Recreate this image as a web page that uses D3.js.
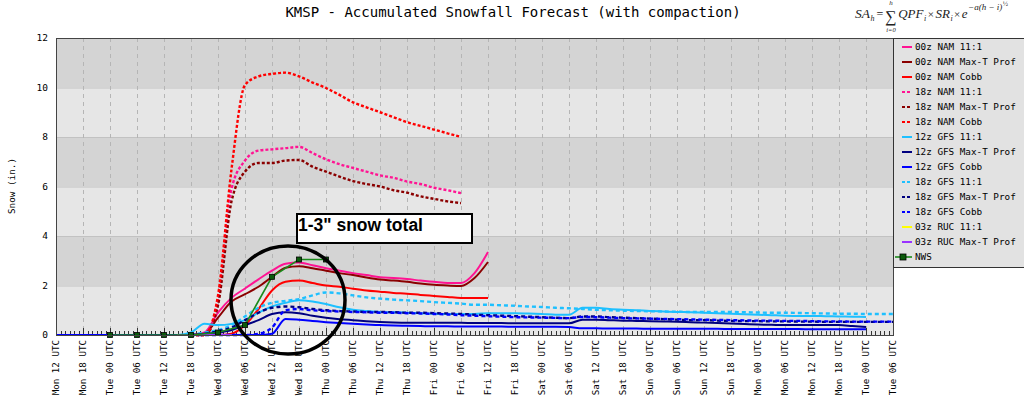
<!DOCTYPE html>
<html>
<head>
<meta charset="utf-8">
<script src="https://cdn.jsdelivr.net/npm/d3@7/dist/d3.min.js"></script>
<style>
  body { margin: 0; background: #fff; }
  svg { display: block; }
  .mono { font-family: "DejaVu Sans Mono", monospace; }
</style>
</head>
<body>
<script>
// hours are counted from Mon 12 UTC, values are inches of snow, one value every 3 hours
var tickLabels = ["Mon 12 UTC", "Mon 18 UTC", "Tue 00 UTC", "Tue 06 UTC", "Tue 12 UTC", "Tue 18 UTC",
  "Wed 00 UTC", "Wed 06 UTC", "Wed 12 UTC", "Wed 18 UTC", "Thu 00 UTC", "Thu 06 UTC", "Thu 12 UTC",
  "Thu 18 UTC", "Fri 00 UTC", "Fri 06 UTC", "Fri 12 UTC", "Fri 18 UTC", "Sat 00 UTC", "Sat 06 UTC",
  "Sat 12 UTC", "Sat 18 UTC", "Sun 00 UTC", "Sun 06 UTC", "Sun 12 UTC", "Sun 18 UTC", "Mon 00 UTC",
  "Mon 06 UTC", "Mon 12 UTC", "Mon 18 UTC", "Tue 00 UTC", "Tue 06 UTC"];
var yTicks = [0, 2, 4, 6, 8, 10, 12];

var nam00_11   = [0, 0.1, 0.9, 1.5, 1.88, 2.25, 2.6, 2.88, 2.93, 2.82, 2.7, 2.6, 2.5, 2.42, 2.33, 2.3, 2.26, 2.2, 2.15, 2.1, 2.1, 2.5, 3.35];
var nam00_maxt = [0, 0.05, 0.7, 1.35, 1.65, 1.95, 2.35, 2.72, 2.78, 2.7, 2.6, 2.5, 2.42, 2.32, 2.24, 2.2, 2.15, 2.08, 2.03, 2.0, 1.98, 2.3, 2.95];
var nam00_cobb = [0, 0, 0, 0.05, 0.4, 1.05, 1.8, 2.15, 2.2, 2.1, 2.0, 1.95, 1.87, 1.8, 1.75, 1.7, 1.67, 1.62, 1.58, 1.54, 1.5, 1.5, 1.5];

var nam18_11   = [0, 0, 1.4, 5.9, 7.05, 7.45, 7.5, 7.55, 7.6, 7.35, 7.1, 6.9, 6.75, 6.6, 6.45, 6.35, 6.2, 6.1, 5.95, 5.85, 5.73];
var nam18_maxt = [0, 0, 1.2, 5.4, 6.6, 6.95, 6.95, 7.05, 7.07, 6.8, 6.6, 6.4, 6.22, 6.1, 6.0, 5.85, 5.75, 5.6, 5.5, 5.4, 5.33];
var nam18_cobb = [0, 0, 1.6, 6.7, 10.1, 10.45, 10.55, 10.6, 10.45, 10.2, 9.98, 9.7, 9.4, 9.2, 9.0, 8.8, 8.6, 8.45, 8.3, 8.15, 8.0];

var gfs12_11 = [0, 0, 0.1, 0.45, 0.4, 0.45, 0.6, 0.9, 1.15, 1.3, 1.4, 1.35, 1.25, 1.12, 1.02, 0.97, 0.93, 0.92, 0.9, 0.88,
  0.86, 0.85, 0.85, 0.85, 0.88, 0.88, 0.88, 0.87, 0.85, 0.82, 0.82, 1.1, 1.1, 1.05, 1.02, 1.0, 0.97, 0.95, 0.93, 0.92,
  0.9, 0.88, 0.86, 0.84, 0.82, 0.8, 0.78, 0.77, 0.77, 0.76, 0.75, 0.74, 0.73];
var gfs12_maxt = [0, 0, 0, 0.05, 0.1, 0.2, 0.4, 0.6, 0.85, 0.92, 0.88, 0.78, 0.7, 0.64, 0.6, 0.56, 0.53, 0.51, 0.5, 0.5,
  0.5, 0.49, 0.49, 0.48, 0.48, 0.48, 0.47, 0.47, 0.47, 0.47, 0.47, 0.62, 0.62, 0.6, 0.58, 0.57, 0.56, 0.55, 0.54, 0.52,
  0.5, 0.48, 0.46, 0.44, 0.42, 0.41, 0.4, 0.4, 0.4, 0.4, 0.4, 0.36, 0.32];
var gfs12_cobb = [0, 0, 0, 0, 0, 0, 0, 0, 0, 0, 0, 0, 0, 0, 0, 0,
  0.05, 0.65, 0.62, 0.57, 0.52, 0.48, 0.45, 0.42, 0.4, 0.38, 0.37, 0.36, 0.35, 0.35, 0.34, 0.34, 0.34, 0.34, 0.33, 0.33,
  0.33, 0.33, 0.32, 0.27, 0.27, 0.26, 0.26, 0.26, 0.25, 0.25, 0.25, 0.25, 0.25, 0.25, 0.24, 0.24, 0.24, 0.24, 0.24, 0.24,
  0.23, 0.23, 0.23, 0.23, 0.23];

var gfs18_11 = [0, 0.1, 0.2, 0.4, 0.75, 1.1, 1.3, 1.38, 1.45, 1.6, 1.72, 1.68, 1.6, 1.52, 1.47, 1.43, 1.4, 1.37, 1.33, 1.3,
  1.27, 1.22, 1.22, 1.2, 1.18, 1.15, 1.13, 1.1, 1.08, 1.05, 1.02, 1.0, 0.98, 0.97, 0.96, 0.95, 0.94, 0.93, 0.93, 0.93,
  0.93, 0.92, 0.91, 0.9, 0.9, 0.89, 0.88, 0.87, 0.86, 0.86, 0.85, 0.85, 0.85];
var gfs18_maxt = [0, 0.05, 0.15, 0.3, 0.6, 0.9, 1.1, 1.15, 1.12, 1.05, 1.0, 0.97, 0.95, 0.93, 0.93, 0.92, 0.9, 0.9, 0.88, 0.87,
  0.85, 0.82, 0.8, 0.78, 0.76, 0.74, 0.72, 0.7, 0.68, 0.75, 0.75, 0.72, 0.7, 0.68, 0.66, 0.64, 0.62, 0.6, 0.6, 0.58,
  0.57, 0.56, 0.56, 0.55, 0.55, 0.54, 0.54, 0.53, 0.53, 0.53, 0.53, 0.53, 0.53];
var gfs18_cobb = [0, 0, 0, 0, 0, 0.05, 0.3, 1.0, 1.05, 1.0, 0.97, 0.95, 0.93, 0.92, 0.9, 0.9, 0.88, 0.87, 0.85, 0.83,
  0.8, 0.78, 0.76, 0.74, 0.72, 0.71, 0.7, 0.69, 0.68, 0.73, 0.72, 0.7, 0.68, 0.67, 0.66, 0.65, 0.64, 0.63, 0.62, 0.61,
  0.6, 0.59, 0.58, 0.58, 0.57, 0.57, 0.56, 0.55, 0.55, 0.54, 0.54, 0.54, 0.54];

var ruc03_11   = [0, 0, 0, 0, 0];
var ruc03_maxt = [0, 0, 0, 0, 0];

var nwsHours  = [12, 18, 24, 30, 36, 42, 48, 54, 60];
var nwsValues = [0, 0, 0, 0, 0.1, 0.4, 2.35, 3.05, 3.05];

// series list: name, first hour, values, colour, dash
var series = [
  {name: "00z NAM 11:1",        start: 30, values: nam00_11,   color: "#ff1493", dash: null},
  {name: "00z NAM Max-T Prof",  start: 30, values: nam00_maxt, color: "#8b0000", dash: null},
  {name: "00z NAM Cobb",        start: 30, values: nam00_cobb, color: "#ff0000", dash: null},
  {name: "18z NAM 11:1",        start: 30, values: nam18_11,   color: "#ff1493", dash: "3,2"},
  {name: "18z NAM Max-T Prof",  start: 30, values: nam18_maxt, color: "#8b0000", dash: "3,2"},
  {name: "18z NAM Cobb",        start: 30, values: nam18_cobb, color: "#ff0000", dash: "3,2"},
  {name: "12z GFS 11:1",        start: 24, values: gfs12_11,   color: "#1ec0ff", dash: null},
  {name: "12z GFS Max-T Prof",  start: 24, values: gfs12_maxt, color: "#000080", dash: null},
  {name: "12z GFS Cobb",        start: 0,  values: gfs12_cobb, color: "#0000ff", dash: null},
  {name: "18z GFS 11:1",        start: 30, values: gfs18_11,   color: "#1ec0ff", dash: "4,3"},
  {name: "18z GFS Max-T Prof",  start: 30, values: gfs18_maxt, color: "#000080", dash: "4,3"},
  {name: "18z GFS Cobb",        start: 30, values: gfs18_cobb, color: "#0000ff", dash: "4,3"},
  {name: "03z RUC 11:1",        start: 27, values: ruc03_11,   color: "#ffff00", dash: null},
  {name: "03z RUC Max-T Prof",  start: 27, values: ruc03_maxt, color: "#9933ff", dash: null}
];

var W = 1024, H = 419;
var plot = {left: 56, right: 893, top: 38, bottom: 335};

var svg = d3.select("body").append("svg")
  .attr("width", W)
  .attr("height", H);

var x = d3.scaleLinear().domain([0, 186]).range([plot.left, plot.right]);
var y = d3.scaleLinear().domain([0, 12]).range([plot.bottom, plot.top]);

// alternating grey bands
var bands = d3.range(0, 12, 2);
svg.selectAll("rect.band")
  .data(bands)
  .enter()
  .append("rect")
    .attr("x", plot.left)
    .attr("y", function(d){ return y(d + 2); })
    .attr("width", plot.right - plot.left)
    .attr("height", function(d){ return y(d) - y(d + 2); })
    .attr("fill", function(d){ return (d / 2) % 2 == 0 ? "#e6e6e6" : "#d4d4d4"; });

svg.selectAll("line.hgrid")
  .data(yTicks.slice(1, -1))
  .enter()
  .append("line")
    .attr("x1", plot.left).attr("x2", plot.right)
    .attr("y1", function(d){ return y(d) + 0.5; })
    .attr("y2", function(d){ return y(d) + 0.5; })
    .attr("stroke", "#c2c2c2");

// dashed verticals at each 6 hour tick
var majorHours = tickLabels.map(function(t, i){ return i * 6; });
svg.selectAll("line.vgrid")
  .data(majorHours.slice(1, -1))
  .enter()
  .append("line")
    .attr("x1", function(d){ return Math.round(x(d)) + 0.5; })
    .attr("x2", function(d){ return Math.round(x(d)) + 0.5; })
    .attr("y1", plot.top).attr("y2", plot.bottom)
    .attr("stroke", "#b5b5b5")
    .attr("stroke-dasharray", "4,4");

// hourly ticks along the bottom
svg.selectAll("line.tick")
  .data(d3.range(0, 187))
  .enter()
  .append("line")
    .attr("x1", function(d){ return Math.round(x(d)) + 0.5; })
    .attr("x2", function(d){ return Math.round(x(d)) + 0.5; })
    .attr("y1", plot.bottom)
    .attr("y2", function(d){ return d % 6 == 0 ? plot.bottom - 7 : plot.bottom - 4; })
    .attr("stroke", "#333");

// x labels, rotated
svg.selectAll("text.xlab")
  .data(tickLabels)
  .enter()
  .append("text")
    .attr("class", "mono")
    .attr("transform", function(d, i){ return "translate(" + x(i * 6) + "," + (plot.bottom + 5) + ") rotate(-90)"; })
    .attr("text-anchor", "end")
    .attr("dy", "0.35em")
    .attr("font-size", "9.2px")
    .text(function(d){ return d; });

// y labels
svg.selectAll("text.ylab")
  .data(yTicks)
  .enter()
  .append("text")
    .attr("class", "mono")
    .attr("x", 48)
    .attr("y", function(d){ return y(d); })
    .attr("dy", "0.35em")
    .attr("text-anchor", "end")
    .attr("font-size", "9.5px")
    .text(function(d){ return d; });

svg.append("text")
  .attr("class", "mono")
  .attr("transform", "translate(12,186) rotate(-90)")
  .attr("text-anchor", "middle")
  .attr("dy", "0.35em")
  .attr("font-size", "9.3px")
  .text("Snow (in.)");

// series lines
var line = d3.line()
  .x(function(d){ return x(d.h); })
  .y(function(d){ return y(d.v); })
  .curve(d3.curveMonotoneX);

function points(s) {
  return s.values.map(function(v, i){ return {h: s.start + i * 3, v: v}; });
}

svg.selectAll("path.series")
  .data(series)
  .enter()
  .append("path")
    .attr("d", function(d){ return line(points(d)); })
    .attr("fill", "none")
    .attr("stroke", function(d){ return d.color; })
    .attr("stroke-width", function(d){ return d.dash ? 2.4 : 2; })
    .attr("stroke-dasharray", function(d){ return d.dash; });

// NWS forecast with square markers
var nws = nwsHours.map(function(h, i){ return {h: h, v: nwsValues[i]}; });
svg.append("path")
  .attr("d", d3.line().x(function(d){ return x(d.h); }).y(function(d){ return y(d.v); })(nws))
  .attr("fill", "none")
  .attr("stroke", "#1a8a1a")
  .attr("stroke-width", 1.6);
svg.selectAll("rect.nws")
  .data(nws)
  .enter()
  .append("rect")
    .attr("x", function(d){ return x(d.h) - 2.5; })
    .attr("y", function(d){ return y(d.v) - 2.5; })
    .attr("width", 5).attr("height", 5)
    .attr("fill", "#0b5a0b")
    .attr("stroke", "#000")
    .attr("stroke-width", 0.8);

// plot frame
svg.append("rect")
  .attr("x", plot.left + 0.5).attr("y", plot.top + 0.5)
  .attr("width", plot.right - plot.left).attr("height", plot.bottom - plot.top)
  .attr("fill", "none")
  .attr("stroke", "#444");

// title
svg.append("text")
  .attr("class", "mono")
  .attr("x", 513).attr("y", 17)
  .attr("text-anchor", "middle")
  .attr("font-size", "14px")
  .text("KMSP - Accumulated Snowfall Forecast (with compaction)");

// formula in the top right corner, laid out piece by piece from a running cursor
var f = svg.append("g")
  .attr("font-family", "'Liberation Serif', 'DejaVu Serif', serif")
  .attr("fill", "#222");
var cur = 855;
function put(str, size, ty, italic, gap) {
  var t = f.append("text").attr("x", cur).attr("y", ty)
    .attr("font-size", size + "px")
    .attr("font-style", italic ? "italic" : "normal")
    .text(str);
  var w = t.node().getComputedTextLength();
  cur += w + gap;
  return w;
}
put("SA", 13.5, 18, true, 0.5);
put("h", 8, 21, true, 2);
put("=", 12, 18, false, 2);
var sx = cur;
var sw = put("\u2211", 16, 22, false, 1.5);
f.append("text").attr("x", sx + sw / 2).attr("y", 5).attr("text-anchor", "middle")
  .attr("font-size", "7px").attr("font-style", "italic").text("h");
f.append("text").attr("x", sx + sw / 2).attr("y", 32).attr("text-anchor", "middle")
  .attr("font-size", "6.5px").attr("font-style", "italic").text("i=0");
put("QPF", 13, 18, true, 0.5);
put("i", 8, 21, true, 1.5);
put("\u00d7", 11, 18, false, 1.5);
put("SR", 13, 18, true, 0.5);
put("i", 8, 21, true, 1.5);
put("\u00d7", 11, 18, false, 1.5);
put("e", 13, 18, true, 0.5);
put("\u2212a(h \u2212 i)", 9, 10, true, 0.5);
put("\u00bd", 7, 6, false, 0);

// legend
var legend = svg.append("g");
legend.append("rect")
  .attr("x", 893.5).attr("y", 38.5)
  .attr("width", 140).attr("height", 229)
  .attr("fill", "#e2e2e2")
  .attr("stroke", "#333");

var items = legend.selectAll("g.item")
  .data(series)
  .enter()
  .append("g")
    .attr("transform", function(d, i){ return "translate(0," + (47 + i * 15) + ")"; });
items.append("line")
  .attr("x1", 902).attr("x2", 912)
  .attr("stroke", function(d){ return d.color; })
  .attr("stroke-width", 2)
  .attr("stroke-dasharray", function(d){ return d.dash ? "3,2" : null; });
items.append("text")
  .attr("class", "mono")
  .attr("x", 915)
  .attr("dy", "0.35em")
  .attr("font-size", "9.3px")
  .text(function(d){ return d.name; });

var nwsItem = legend.append("g").attr("transform", "translate(0," + (47 + series.length * 15) + ")");
nwsItem.append("line").attr("x1", 895).attr("x2", 912).attr("stroke", "#1a8a1a").attr("stroke-width", 1.6);
nwsItem.append("rect").attr("x", 900).attr("y", -3).attr("width", 6).attr("height", 6)
  .attr("fill", "#0b5a0b").attr("stroke", "#000").attr("stroke-width", 0.8);
nwsItem.append("text").attr("class", "mono").attr("x", 915).attr("dy", "0.35em")
  .attr("font-size", "9.3px").text("NWS");

// hand-drawn annotation
svg.append("rect")
  .attr("x", 297).attr("y", 214)
  .attr("width", 175).attr("height", 29)
  .attr("fill", "#fff")
  .attr("stroke", "#000")
  .attr("stroke-width", 2);
svg.append("text")
  .attr("x", 298).attr("y", 231)
  .attr("font-family", "'Liberation Sans', Arial, sans-serif")
  .attr("font-weight", "bold")
  .attr("font-size", "17.5px")
  .text("1-3\" snow total");
svg.append("ellipse")
  .attr("cx", 288).attr("cy", 300)
  .attr("rx", 57).attr("ry", 54)
  .attr("fill", "none")
  .attr("stroke", "#000")
  .attr("stroke-width", 3.5);
</script>
</body>
</html>
